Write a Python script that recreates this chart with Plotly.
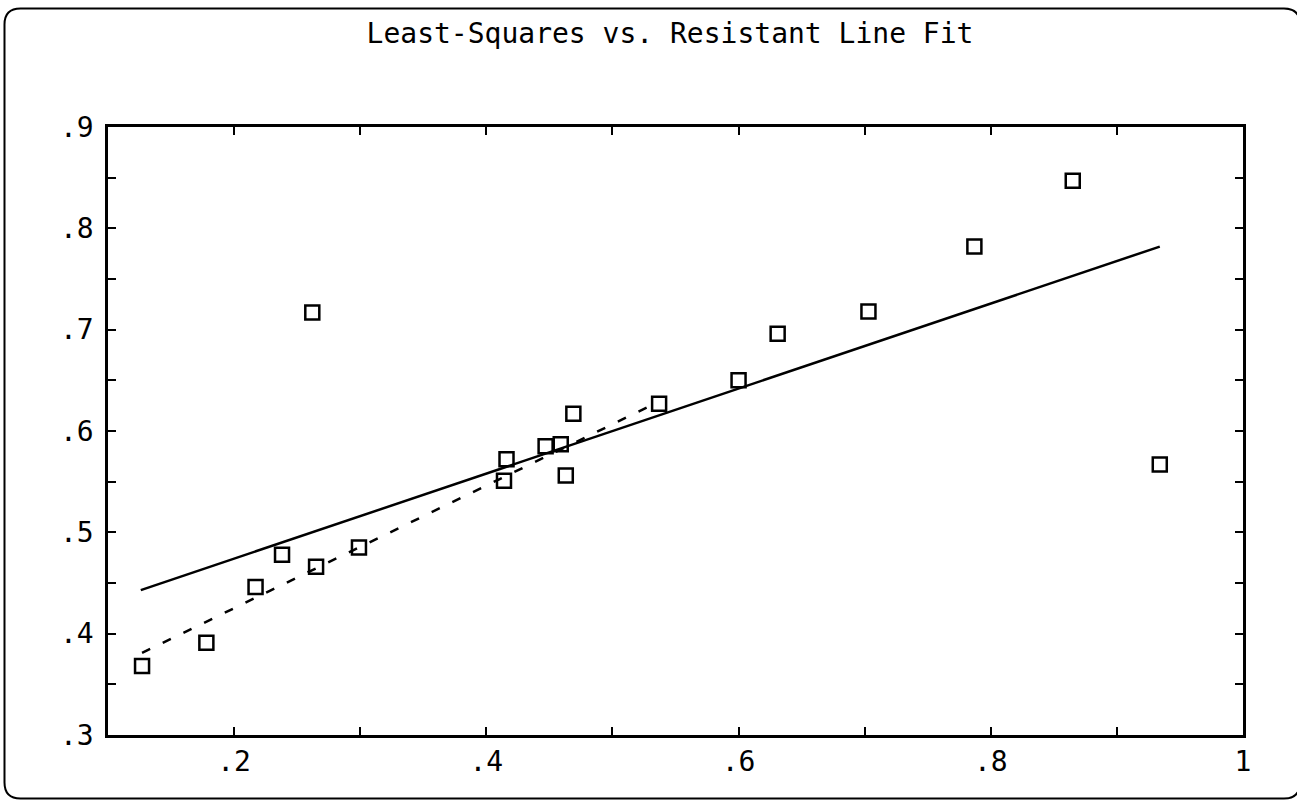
import plotly.graph_objects as go

# Observations
x_obs = [0.127, 0.178, 0.217, 0.238, 0.262, 0.265, 0.299, 0.414, 0.416, 0.447,
         0.459, 0.463, 0.469, 0.537, 0.600, 0.631, 0.703, 0.787, 0.865, 0.934]
y_obs = [0.368, 0.391, 0.446, 0.478, 0.717, 0.466, 0.485, 0.551, 0.572, 0.585,
         0.587, 0.556, 0.617, 0.627, 0.650, 0.696, 0.718, 0.782, 0.847, 0.567]

# Fitted lines (end points)
ls_x = [0.126, 0.934]
ls_y = [0.443, 0.782]
rl_x = [0.127, 0.537]
rl_y = [0.381, 0.629]

# Axis ticks
x_tickvals = [0.1, 0.2, 0.3, 0.4, 0.5, 0.6, 0.7, 0.8, 0.9, 1.0]
x_ticktext = ["", ".2", "", ".4", "", ".6", "", ".8", "", "1"]
y_tickvals = [0.3, 0.35, 0.4, 0.45, 0.5, 0.55, 0.6, 0.65, 0.7, 0.75, 0.8, 0.85, 0.9]
y_ticktext = [".3", "", ".4", "", ".5", "", ".6", "", ".7", "", ".8", "", ".9"]

W, H = 1297, 800
ML, MR, MT, MB = 108, 54, 127, 65
PW, PH = W - ML - MR, H - MT - MB
FONT = "DejaVu Sans Mono"


def px(xp):
    return (xp - ML) / PW


def py(yp):
    return (H - MB - yp) / PH


def rounded_rect(l, t, r, b, rad):
    pts = [
        ("M", [(l + rad, t)]),
        ("L", [(r - rad, t)]),
        ("Q", [(r, t), (r, t + rad)]),
        ("L", [(r, b - rad)]),
        ("Q", [(r, b), (r - rad, b)]),
        ("L", [(l + rad, b)]),
        ("Q", [(l, b), (l, b - rad)]),
        ("L", [(l, t + rad)]),
        ("Q", [(l, t), (l + rad, t)]),
    ]
    out = []
    for cmd, coords in pts:
        out.append(cmd + " ".join(f"{px(a):.5f},{py(c):.5f}" for a, c in coords))
    return " ".join(out) + " Z"


fig = go.Figure()

fig.add_trace(go.Scatter(
    x=ls_x, y=ls_y, mode="lines",
    line=dict(color="black", width=2.5),
    showlegend=False, hoverinfo="skip",
))
fig.add_trace(go.Scatter(
    x=rl_x, y=rl_y, mode="lines",
    line=dict(color="black", width=2.5, dash="9px,14px"),
    showlegend=False, hoverinfo="skip",
))
fig.add_trace(go.Scatter(
    x=x_obs, y=y_obs, mode="markers",
    marker=dict(symbol="square-open", size=14, color="black",
                line=dict(color="black", width=2.5)),
    showlegend=False,
))

axis_common = dict(
    showgrid=False, zeroline=False,
    showline=True, linecolor="black", linewidth=2.5, mirror="ticks",
    ticks="inside", ticklen=8, tickwidth=2, tickcolor="black",
    tickfont=dict(family=FONT, size=28, color="black"),
    tickmode="array",
)

fig.update_xaxes(range=[0.1, 1.0], tickvals=x_tickvals, ticktext=x_ticktext,
                 ticklabelstandoff=0, **axis_common)
fig.update_yaxes(range=[0.3, 0.9], tickvals=y_tickvals, ticktext=y_ticktext,
                 ticklabelstandoff=6, **axis_common)

fig.update_layout(
    width=W, height=H,
    margin=dict(l=ML, r=MR, t=MT, b=MB),
    paper_bgcolor="white", plot_bgcolor="white",
    title=dict(
        text="Least-Squares vs. Resistant Line Fit",
        font=dict(family=FONT, size=28, color="black"),
        x=px(670), xref="paper", xanchor="center",
        y=1 - 33 / H, yref="container", yanchor="middle",
    ),
    shapes=[dict(
        type="path", xref="paper", yref="paper",
        path=rounded_rect(4.5, 8.5, 1300, 798.5, 16),
        line=dict(color="black", width=2), fillcolor="rgba(0,0,0,0)",
    )],
)

fig.write_html("out.html")
